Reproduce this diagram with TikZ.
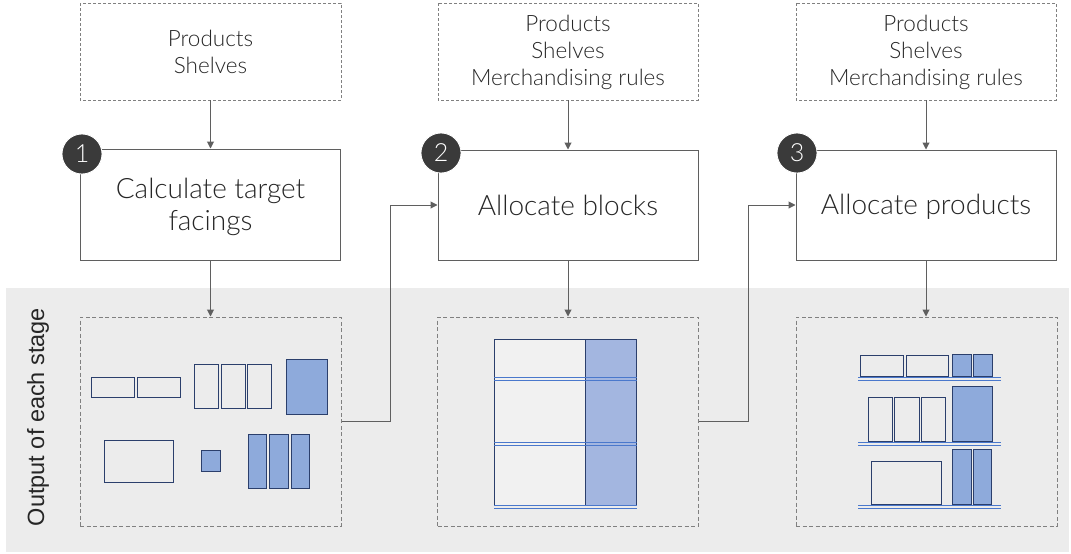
\documentclass[tikz,border=0pt]{standalone}
\usepackage{fontspec}
\setmainfont{Lato Light}
\newfontfamily\labelfont{Liberation Sans}
\usetikzlibrary{arrows.meta}

\definecolor{bandgray}{HTML}{ECECEC}
\definecolor{linegray}{HTML}{5F5F5F}
\definecolor{dashgray}{HTML}{808080}
\definecolor{badge}{HTML}{3A3A3A}
\definecolor{itemblue}{HTML}{8EAADB}
\definecolor{blocksblue}{HTML}{A3B6E0}
\definecolor{itemedge}{HTML}{2B3F6C}
\definecolor{shelfblue}{HTML}{4A78CC}
\definecolor{textgray}{HTML}{262626}

\begin{document}
\begin{tikzpicture}[x=1pt,y=-1pt,
  inbox/.style={draw=dashgray,dashed,dash pattern=on 3pt off 2pt,line width=0.9pt},
  stagebox/.style={draw=linegray,line width=1pt,fill=white},
  outbox/.style={draw=dashgray,dash pattern=on 4pt off 2.5pt,line width=1pt},
  conn/.style={draw=linegray,line width=1pt,-{Triangle[length=7pt,width=7pt]}},
  badgestyle/.style={circle,fill=badge,draw=white,line width=0.8pt,minimum size=40pt,inner sep=0pt,text=white,font=\fontsize{25}{25}\selectfont},
  intext/.style={align=center,text=textgray,font=\fontsize{22.5}{27}\selectfont},
  stagetext/.style={align=center,text=textgray,font=\fontsize{28}{32}\selectfont},
  plain/.style={draw=itemedge,line width=1pt},
  filled/.style={draw=itemedge,fill=itemblue,line width=1pt},
  shelf/.style={draw=shelfblue,line width=0.9pt}
]
\useasboundingbox (0,0) rectangle (1071,554);

% background band for the outputs
\fill[bandgray] (6,288) rectangle (1069,552);
\node[rotate=90,font=\labelfont\fontsize{23.5}{23.5}\selectfont,text=textgray] (bandlabel) at (38,417) {Output of each stage};

% inputs
\path[inbox] (80,3) rectangle (341,100);
\path[inbox] (438,3) rectangle (698,100);
\path[inbox] (796,3) rectangle (1056,100);
\coordinate (in1) at (210.5,100);
\coordinate (in2) at (568,100);
\coordinate (in3) at (926,100);
\node[intext] (inlabel1) at (210.5,51.5) {Products\\Shelves};
\node[intext] (inlabel2) at (568,52) {Products\\Shelves\\Merchandising rules};
\node[intext] (inlabel3) at (926,52) {Products\\Shelves\\Merchandising rules};

% stages
\node[stagebox,minimum width=260pt,minimum height=111pt] (s1) at (210.5,204.5) {};
\node[stagebox,minimum width=260pt,minimum height=110pt] (s2) at (568,205) {};
\node[stagebox,minimum width=260pt,minimum height=110pt] (s3) at (926,205) {};
\node[stagetext] (t1) at ([yshift=-2pt]s1.center) {Calculate target\\facings};
\node[stagetext] (t2) at (s2.center) {Allocate blocks};
\node[stagetext] (t3) at ([yshift=-2pt]s3.center) {Allocate products};

\node[badgestyle] (b1) at (82,154) {1};
\node[badgestyle] (b2) at (441,153) {2};
\node[badgestyle] (b3) at (797,153) {3};

% outputs
\node[outbox,minimum width=261pt,minimum height=209pt] (o1) at (210.5,421.5) {};
\node[outbox,minimum width=261pt,minimum height=209pt] (o2) at (568,421.5) {};
\node[outbox,minimum width=261pt,minimum height=209pt] (o3) at (926.5,421.5) {};

% arrows
\draw[conn] (in1) -- (s1.north);
\draw[conn] (in2) -- (s2.north);
\draw[conn] (in3) -- (s3.north);
\draw[conn] (s1.south) -- (o1.north);
\draw[conn] (s2.south) -- (o2.north);
\draw[conn] (s3.south) -- (o3.north -| s3.south);
\draw[conn] (o1.east) -- (390,421.5) |- (s2.west);
\draw[conn] (o2.east) -- (748,421.5) |- (s3.west);

% stage 1 output: facings as loose boxes
\draw[plain] (91,377) rectangle (134,397);
\draw[plain] (137,377) rectangle (180,397);
\draw[plain] (194.3,364) rectangle (218.3,408);
\draw[plain] (221.3,364) rectangle (245.7,408);
\draw[plain] (247.3,364) rectangle (271.7,408);
\draw[filled] (286,359) rectangle (327,414);
\draw[plain] (104.7,440.3) rectangle (173.7,482);
\draw[filled] (201.7,450.7) rectangle (220.3,471.7);
\draw[filled] (248.3,434) rectangle (266.7,488.3);
\draw[filled] (269.3,434) rectangle (288.3,488.3);
\draw[filled] (291,434) rectangle (309,488.3);

% stage 2 output: blocks on the shelves
\fill[bandgray!75!white] (494.3,339) rectangle (585,505);
\fill[blocksblue] (585,339) rectangle (636.7,505);
\draw[itemedge,line width=1pt] (494.3,339) rectangle (636.7,505);
\draw[itemedge,line width=1pt] (585,339) -- (585,505);
\foreach \ya/\yb in {377.7/380.7, 442.7/445.3, 505/508.3}{
  \draw[shelf] (494.3,\ya) -- (636.7,\ya);
  \draw[shelf] (494.3,\yb) -- (636.7,\yb);
}

% stage 3 output: products on the shelves
\draw[plain] (860,355.7) rectangle (903.7,376.7);
\draw[plain] (906,355.7) rectangle (948.7,376.7);
\draw[filled] (952.7,354.3) rectangle (971.7,376.7);
\draw[filled] (973.3,354.3) rectangle (992.3,376.7);
\draw[plain] (868.3,397.3) rectangle (892.7,441.3);
\draw[plain] (894.3,397.3) rectangle (919.7,441.3);
\draw[plain] (921.7,397.3) rectangle (945.7,441.3);
\draw[filled] (952.7,386) rectangle (992.7,441.3);
\draw[plain] (871.3,461) rectangle (941.7,504);
\draw[filled] (952.7,449.3) rectangle (971.7,504);
\draw[filled] (973.3,449.3) rectangle (991.7,504);
\foreach \ya/\yb in {377.7/380.7, 442.3/445.3, 505/508}{
  \draw[shelf] (858.3,\ya) -- (1000.7,\ya);
  \draw[shelf] (858.3,\yb) -- (1000.7,\yb);
}
\end{tikzpicture}
\end{document}
